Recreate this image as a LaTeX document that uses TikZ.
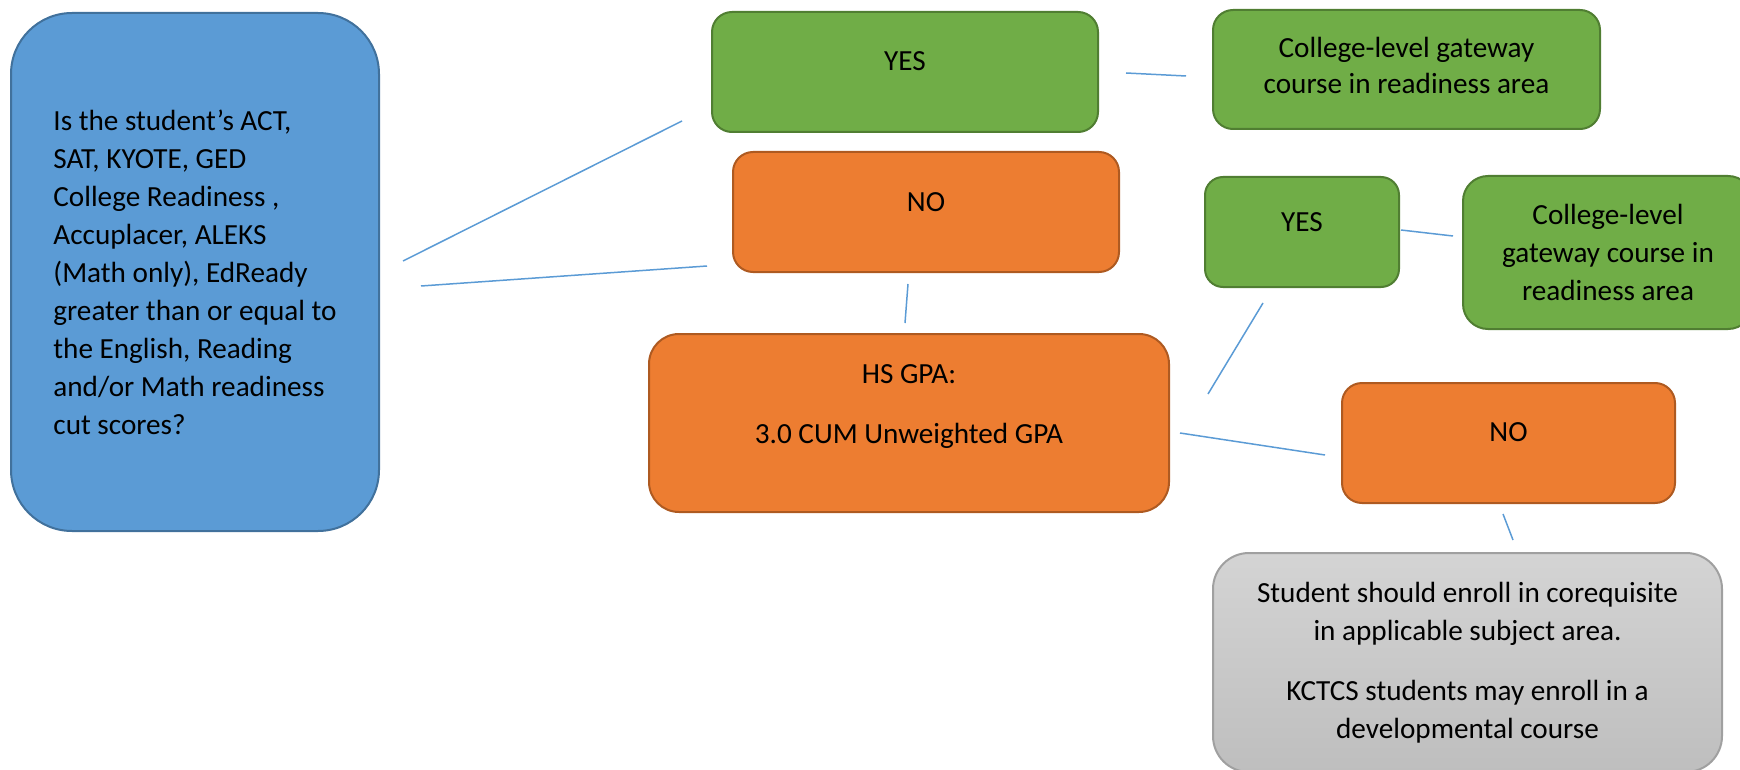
\documentclass[tikz,border=0pt]{standalone}
\usepackage{fontspec}
\setmainfont{Carlito}
\usetikzlibrary{calc}
\definecolor{qblue}{RGB}{91,155,213}
\definecolor{qblueline}{RGB}{65,113,156}
\definecolor{okgreen}{RGB}{112,173,71}
\definecolor{okgreenline}{RGB}{80,126,50}
\definecolor{noorange}{RGB}{237,125,49}
\definecolor{noorangeline}{RGB}{174,90,33}
\definecolor{devtop}{RGB}{212,212,212}
\definecolor{devbottom}{RGB}{190,190,190}
\definecolor{devline}{RGB}{160,160,160}

\begin{document}
\begin{tikzpicture}[x=1pt, y=-1pt,
    box/.style={draw, line width=2pt, align=center, inner sep=0pt,
        font=\fontsize{29.2}{38}\selectfont},
    yesbox/.style={box, fill=okgreen, draw=okgreenline},
    nobox/.style={box, fill=noorange, draw=noorangeline},
    lift/.style={text depth=#1},
    link/.style={draw=qblue, line width=1.5pt}]
    \useasboundingbox (0,0) rectangle (1740,770);
    \node[box, fill=qblue, draw=qblueline, rounded corners=61pt,
        minimum width=368pt, minimum height=518pt, align=left]
        (q) at (195,272) {Is the student’s ACT,\\ SAT, KYOTE, GED\\ College Readiness ,\\
        Accuplacer, ALEKS\\ (Math only), EdReady\\ greater than or equal to\\
        the English, Reading\\ and/or Math readiness\\ cut scores?};
    \node[yesbox, rounded corners=20pt, minimum width=386pt, minimum height=120pt, lift=22pt]
        (yesA) at (905,72) {YES};
    \node[yesbox, rounded corners=20pt, minimum width=387pt, minimum height=119pt, lift=9pt]
        (gateA) at (1406.5,69.5) {College-level gateway\\[-2pt] course in readiness area};
    \node[nobox, rounded corners=20pt, minimum width=386pt, minimum height=120pt, lift=20pt]
        (noA) at (926,212) {NO};
    \node[yesbox, rounded corners=18pt, minimum width=194pt, minimum height=110pt, lift=20pt]
        (yesB) at (1302,232) {YES};
    \node[yesbox, rounded corners=25pt, minimum width=290pt, minimum height=153pt]
        (gateB) at (1608,252.5) {College-level\\ gateway course in\\ readiness area};
    \node[nobox, rounded corners=30pt, minimum width=520pt, minimum height=178pt, lift=38pt]
        (gpa) at (909,423) {HS GPA:\\[22pt] 3.0 CUM Unweighted GPA};
    \node[nobox, rounded corners=20pt, minimum width=333pt, minimum height=120pt, lift=22pt]
        (noB) at (1508.5,443) {NO};
    \node[box, draw=devline, top color=devtop, bottom color=devbottom, rounded corners=36pt,
        minimum width=509pt, minimum height=219pt]
        (dev) at (1467.5,662.5) {Student should enroll in corequisite\\ in applicable subject area.\\[22pt]
        KCTCS students may enroll in a\\ developmental course};

    \draw[link] ($(q.east)+(23,-11)$) -- ($(yesA.west)+(-29,49)$);
    \draw[link] ($(q.east)+(41,14)$) -- ($(noA.west)+(-25,54)$);
    \draw[link] ($(yesA.east)+(27,1)$) -- ($(gateA.west)+(-26,6.5)$);
    \draw[link] ($(noA.south)+(-18,11)$) -- ($(gpa.north)+(-4,-10)$);
    \draw[link] ($(gpa.east)+(38,-29)$) -- ($(yesB.south)+(-39,15)$);
    \draw[link] ($(yesB.east)+(1,-2)$) -- ($(gateB.west)+(-9,-16.5)$);
    \draw[link] ($(gpa.east)+(10,10)$) -- ($(noB.west)+(-16,12)$);
    \draw[link] ($(noB.south)+(-5.5,10)$) -- ($(dev.north)+(45.5,-12)$);
\end{tikzpicture}
\end{document}
